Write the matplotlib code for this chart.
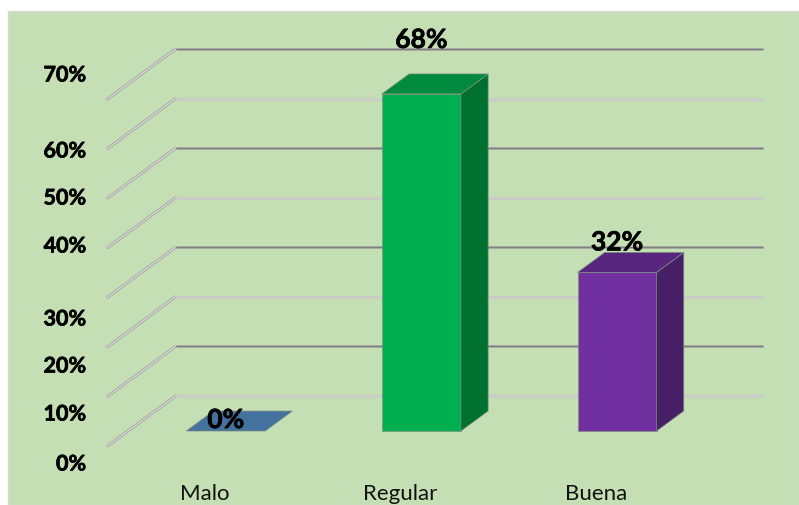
import matplotlib
matplotlib.use("Agg")
import matplotlib.pyplot as plt
import matplotlib.patheffects as pe
from matplotlib.patches import Polygon, Rectangle

categories = ["Malo", "Regular", "Buena"]
values = [0, 68, 32]
grid_values = [0, 10, 20, 30, 40, 50, 60, 70]
tick_labels = ["0%", "10%", "20%", "30%", "40%", "50%", "60%", "70%"]

front_colors = ["#44729F", "#00B050", "#7030A0"]
top_colors = ["#44729F", "#008A3E", "#59267F"]
side_colors = ["#44729F", "#00702F", "#471F66"]

# the text boxes in the original are not evenly spaced, so these are pixels from the top
tick_label_px = [465, 415, 367, 320, 247, 199, 152, 76]
value_label_lift = [11, 54, 30]

W, H = 799, 506
plt.rcParams["font.family"] = ["Lato", "DejaVu Sans"]
thicker = [pe.withStroke(linewidth=0.5, foreground="black")]

fig = plt.figure(figsize=(W / 100, H / 100), dpi=100, facecolor="white")
fig.add_artist(Rectangle((8 / W, 0), (W - 8) / W, 494 / H, transform=fig.transFigure,
                         facecolor="#C5DFB4", edgecolor="#D9D9D9", linewidth=1, zorder=-1))

ax = fig.add_axes([107.5 / W, (H - 447) / H, 587 / W, 347 / H])
ax.set_xlim(-0.5, 2.5)
ax.set_ylim(0, 70)
ax.axis("off")
ax.patch.set_alpha(0)

# oblique depth: how far the back wall is shifted, in data units
DEPTH_X = 68 / 587 * 3
DEPTH_Y = 10.08


def project(x, v, d):
    return x + d * DEPTH_X, v + d * DEPTH_Y


def face(points, color):
    ax.add_patch(Polygon(points, closed=True, facecolor=color, edgecolor="#7F8F7F",
                         linewidth=0.5, clip_on=False, zorder=3))


for i, g in enumerate(grid_values):
    wall_x = [project(-0.5, g, 0)[0], project(-0.5, g, 1)[0]]
    wall_y = [project(-0.5, g, 0)[1], project(-0.5, g, 1)[1]]
    ax.plot(wall_x, wall_y, color="#9A9A9A", lw=2.0, clip_on=False, zorder=1,
            solid_capstyle="round")
    ax.plot(wall_x, wall_y, color="#D9D9D9", lw=1.0, clip_on=False, zorder=1.1)

    back_x = [project(-0.5, g, 1)[0], project(2.5, g, 1)[0]]
    back_y = [project(-0.5, g, 1)[1]] * 2
    dark = i % 2 == 1
    ax.plot(back_x, back_y, color="#A3A3A3" if dark else "#C4C4C4", lw=1.9,
            clip_on=False, zorder=1, solid_capstyle="butt")
    ax.plot(back_x, back_y, color="#7F7F7F" if dark else "#D2D2D2", lw=0.8,
            clip_on=False, zorder=1.1, solid_capstyle="butt")

bar_half = 0.202
d0, d1 = 0.3, 0.7

for i, (cat, val) in enumerate(zip(categories, values)):
    l, r = i - bar_half, i + bar_half
    if val > 0:
        face([project(l, 0, d0), project(r, 0, d0), project(r, val, d0), project(l, val, d0)],
             front_colors[i])
        face([project(r, 0, d0), project(r, 0, d1), project(r, val, d1), project(r, val, d0)],
             side_colors[i])
    face([project(l, val, d0), project(r, val, d0), project(r, val, d1), project(l, val, d1)],
         top_colors[i])

    ax.annotate(f"{val}%", xy=project(i, val, d0), xytext=(0, value_label_lift[i]),
                textcoords="offset pixels", ha="center", va="center", fontsize=19,
                fontweight="bold", color="black", zorder=5, annotation_clip=False,
                path_effects=thicker)

    ax.annotate(cat, xy=project(i, 0, d0), xytext=(-21, -62), textcoords="offset pixels",
                ha="center", va="center", fontsize=16, color="#111111",
                annotation_clip=False)

for label, y_px in zip(tick_labels, tick_label_px):
    fig.text(86 / W, (H - y_px) / H, label, ha="right", va="center", fontsize=15.5,
             fontweight="bold", color="black", path_effects=thicker)

fig.savefig("out.png", dpi=100, facecolor="white")
